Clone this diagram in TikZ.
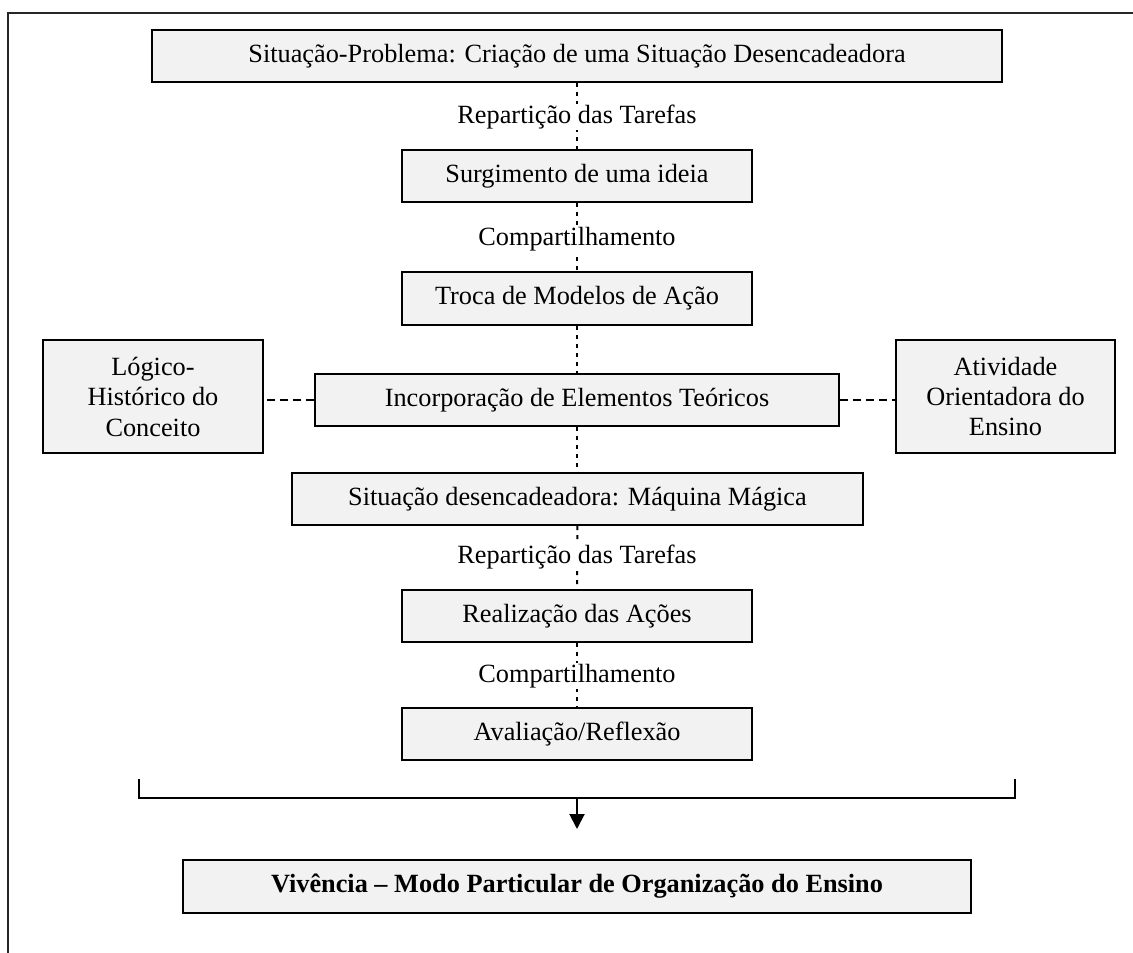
\documentclass[tikz,border=0pt]{standalone}
\usepackage{fontspec}
\setmainfont{Liberation Serif}
\usetikzlibrary{arrows.meta}
\definecolor{boxfill}{RGB}{242,242,242}
\begin{document}
\begin{tikzpicture}[x=1pt,y=-1pt,
    every node/.style={font=\fontsize{26.3}{30.5}\selectfont},
    etapa/.style={draw,line width=2pt,fill=boxfill,inner sep=0pt,
      minimum height=52pt,align=center},
    rotulo/.style={fill=white,inner sep=1pt},
    ligacao/.style={line width=2pt,dash pattern=on 4pt off 5pt},
    lateral/.style={line width=1.5pt,dash pattern=on 8pt off 5pt}]
  \useasboundingbox (0,0) rectangle (1133,953);
  \draw[line width=2pt,black!85] (8,953) -- (8,13) -- (1133,13);
  \pgfmathsetmacro\meio{577}
  \node[etapa,minimum width=850pt] (sitprob) at (\meio,56)
    {Situação-Problema: Criação de uma Situação Desencadeadora};
  \node[etapa,minimum width=350pt] (surg) at (\meio,176) {Surgimento de uma ideia};
  \node[etapa,minimum width=350pt,minimum height=53pt] (troca) at (\meio,298.5)
    {Troca de Modelos de Ação};
  \node[etapa,minimum width=524pt] (incorp) at (\meio,400)
    {Incorporação de Elementos Teóricos};
  \node[etapa,minimum width=220pt,minimum height=113pt] (logico) at (153,396.5)
    {Lógico-\\Histórico do\\Conceito};
  \node[etapa,minimum width=219pt,minimum height=113pt] (ativ) at (1005.5,396.5)
    {Atividade\\Orientadora do\\Ensino};
  \node[etapa,minimum width=571pt] (sitdes) at (577.5,499)
    {Situação desencadeadora: Máquina Mágica};
  \node[etapa,minimum width=350pt] (realiz) at (\meio,616) {Realização das Ações};
  \node[etapa,minimum width=350pt] (aval) at (\meio,734) {Avaliação/Reflexão};
  \node[etapa,minimum width=788pt,minimum height=53pt,font=\fontsize{26.3}{30.5}\selectfont\bfseries]
    (vivencia) at (\meio,886.5) {Vivência – Modo Particular de Organização do Ensino};
  \draw[ligacao] (sitprob) -- (surg);
  \draw[ligacao] (surg) -- (troca);
  \draw[ligacao] (troca) -- (incorp);
  \draw[ligacao] (incorp) -- (sitdes.north -| incorp);
  \draw[ligacao] (sitdes) -- (realiz);
  \draw[ligacao] (realiz) -- (aval);
  \draw[lateral] (incorp.west) -- (incorp.west -| logico.east);
  \draw[lateral] (incorp.east) -- (incorp.east -| ativ.west);
  \node[rotulo] (rep1) at (\meio,117) {Repartição das Tarefas};
  \node[rotulo] (comp1) at (\meio,239) {Compartilhamento};
  \node[rotulo] (rep2) at (\meio,557) {Repartição das Tarefas};
  \node[rotulo] (comp2) at (\meio,676) {Compartilhamento};
  \coordinate (chave-esq) at (139,779);
  \coordinate (chave-dir) at (1015,779);
  \coordinate (chave-meio) at (\meio,798);
  \coordinate (seta-fim) at (\meio,829);
  \draw[line width=2pt] (chave-esq) -- (chave-esq |- chave-meio)
    -- (chave-dir |- chave-meio) -- (chave-dir);
  \draw[line width=2pt,-{Triangle[width=15pt,length=15pt]}] (chave-meio) -- (seta-fim);
\end{tikzpicture}
\end{document}
